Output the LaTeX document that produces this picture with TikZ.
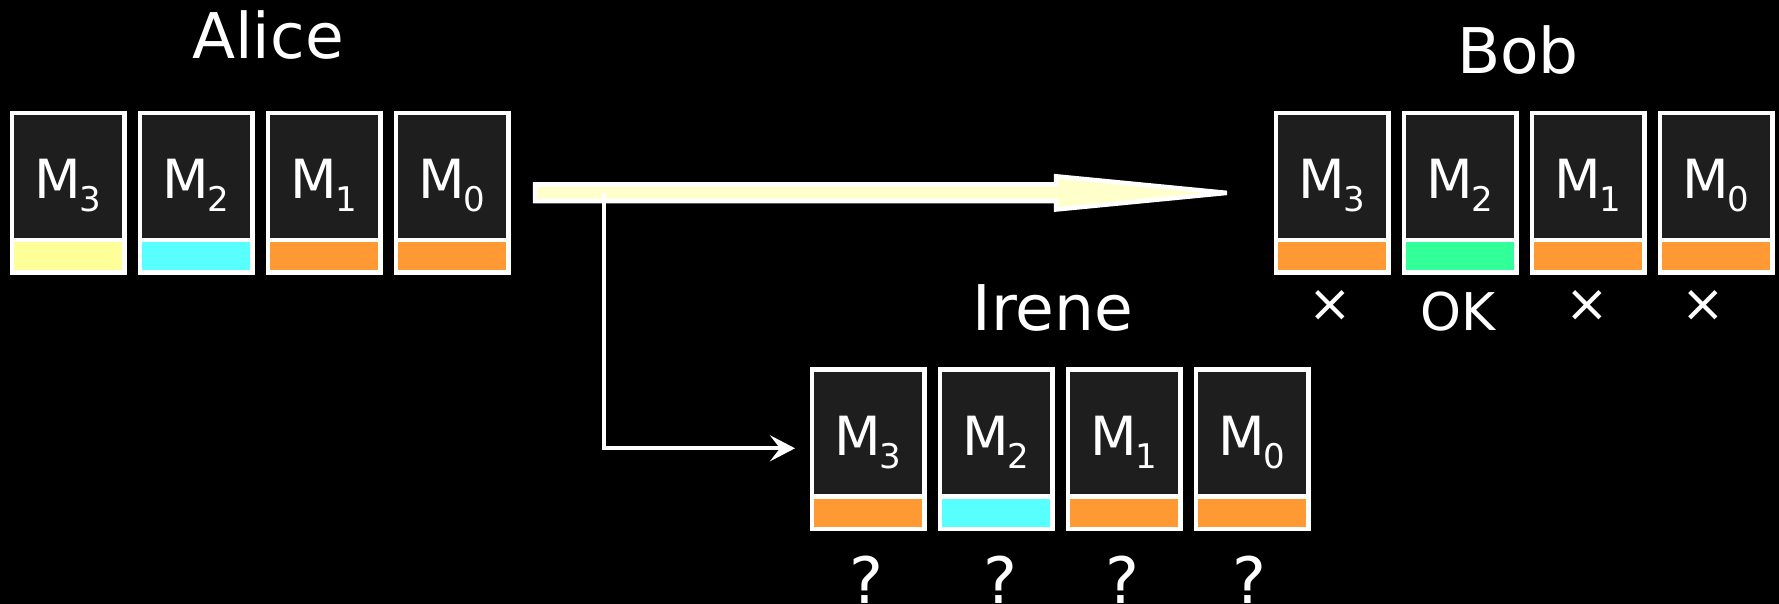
\documentclass[tikz,border=0pt]{standalone}
\usepackage{fontspec}
\setmainfont{DejaVu Sans}
\usetikzlibrary{arrows.meta}
\definecolor{boxfill}{HTML}{1E1E1E}
\definecolor{cyellow}{HTML}{FFFF99}
\definecolor{ccyan}{HTML}{58FFFF}
\definecolor{corange}{HTML}{FF9933}
\definecolor{cgreen}{HTML}{33FF99}
\definecolor{arrowfill}{HTML}{FFFFCC}
\tikzset{
  upperbox/.style={draw=white, line width=4.5pt, fill=boxfill, minimum width=112.5pt, minimum height=127pt, inner sep=0pt, outer sep=0pt, anchor=north},
  lowerbox/.style={draw=white, line width=4.5pt, minimum width=112.5pt, minimum height=32.7pt, inner sep=0pt, outer sep=0pt, anchor=north},
  mlabel/.style={text=white, inner sep=0pt, anchor=base, font=\fontsize{54}{60}\selectfont},
  namelabel/.style={text=white, inner sep=0pt, anchor=base, font=\fontsize{63}{70}\selectfont},
  marklabel/.style={text=white, inner sep=0pt, font=\fontsize{52}{60}\selectfont},
  qlabel/.style={text=white, inner sep=0pt, anchor=base, font=\fontsize{64}{70}\selectfont},
  thinarrow/.style={draw=white, line width=4.3pt, -{Stealth[length=25pt, width=26pt, inset=10pt]}},
  bigarrow/.style={draw=white, fill=arrowfill, line width=4.5pt, line join=miter},
}
\newcommand\msgcell[5]{%
  \node[upperbox] (#1u) at (#2,#3) {};
  \node[lowerbox, fill=#4] (#1l) at (#2,#3+127) {};
  \node[mlabel] (#1t) at (#2,#3+86) {M\hspace{-2pt}\raisebox{-12.7pt}{\fontsize{34}{40}\selectfont #5}};
}
\begin{document}
\begin{tikzpicture}[x=1pt,y=-1pt]
\fill[black] (0,0) rectangle (1779,604);
\useasboundingbox (0,0) rectangle (1779,604);

% Alice
\node[namelabel] (alice) at (268,58.3) {Alice};
\msgcell{a3}{68}{113}{cyellow}{3}
\msgcell{a2}{196}{113}{ccyan}{2}
\msgcell{a1}{324}{113}{corange}{1}
\msgcell{a0}{452}{113}{corange}{0}

% Bob
\node[namelabel] (bob) at (1518,73.3) {Bob};
\msgcell{b3}{1332}{113}{corange}{3}
\msgcell{b2}{1460}{113}{cgreen}{2}
\msgcell{b1}{1588}{113}{corange}{1}
\msgcell{b0}{1716}{113}{corange}{0}
\node[marklabel] (x3) at (1330,305.8) {×};
\node[marklabel, anchor=base] (ok) at (1458,330) {OK};
\node[marklabel] (x1) at (1587,305.8) {×};
\node[marklabel] (x0) at (1703,305.8) {×};

% Irene
\node[namelabel] (irene) at (1053,330) {Irene};
\msgcell{i3}{868}{369.5}{corange}{3}
\msgcell{i2}{996}{369.5}{ccyan}{2}
\msgcell{i1}{1124}{369.5}{corange}{1}
\msgcell{i0}{1252}{369.5}{corange}{0}
\node[qlabel] (q3) at (866,603.5) {?};
\node[qlabel] (q2) at (1000,603.5) {?};
\node[qlabel] (q1) at (1122,603.5) {?};
\node[qlabel] (q0) at (1249,603.5) {?};

% big arrow Alice -> Bob
\draw[bigarrow] (535,184.5) -- (1056,184.5) -- (1056,176.3) -- (1227,192.9)
  -- (1056,209.5) -- (1056,201) -- (535,201) -- cycle;

% branch to Irene
\coordinate (branch) at (604,193.3);
\coordinate (ireneIn) at (795,448.3);
\draw[thinarrow] (branch) |- (ireneIn);
\end{tikzpicture}
\end{document}
